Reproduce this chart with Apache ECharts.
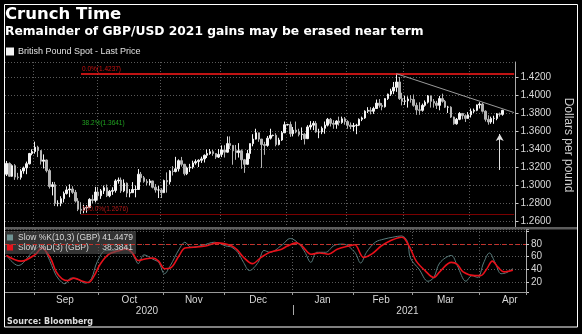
<!DOCTYPE html>
<html><head><meta charset="utf-8">
<script src="https://cdn.jsdelivr.net/npm/echarts@6/dist/echarts.min.js"></script>
<style>html,body{margin:0;padding:0;background:#000;}#c{width:582px;height:334px;}</style>
</head><body><div id="c"></div>
<script>
// ---------- DATA ----------
const dates = [
'2020-08-18','2020-08-19','2020-08-20','2020-08-21','2020-08-24','2020-08-25','2020-08-26','2020-08-27','2020-08-28','2020-08-31',
'2020-09-01','2020-09-02','2020-09-03','2020-09-04','2020-09-07','2020-09-08','2020-09-09','2020-09-10','2020-09-11','2020-09-14','2020-09-15','2020-09-16','2020-09-17','2020-09-18','2020-09-21','2020-09-22','2020-09-23','2020-09-24','2020-09-25','2020-09-28','2020-09-29','2020-09-30',
'2020-10-01','2020-10-02','2020-10-05','2020-10-06','2020-10-07','2020-10-08','2020-10-09','2020-10-12','2020-10-13','2020-10-14','2020-10-15','2020-10-16','2020-10-19','2020-10-20','2020-10-21','2020-10-22','2020-10-23','2020-10-26','2020-10-27','2020-10-28','2020-10-29','2020-10-30',
'2020-11-02','2020-11-03','2020-11-04','2020-11-05','2020-11-06','2020-11-09','2020-11-10','2020-11-11','2020-11-12','2020-11-13','2020-11-16','2020-11-17','2020-11-18','2020-11-19','2020-11-20','2020-11-23','2020-11-24','2020-11-25','2020-11-26','2020-11-27','2020-11-30',
'2020-12-01','2020-12-02','2020-12-03','2020-12-04','2020-12-07','2020-12-08','2020-12-09','2020-12-10','2020-12-11','2020-12-14','2020-12-15','2020-12-16','2020-12-17','2020-12-18','2020-12-21','2020-12-22','2020-12-23','2020-12-24','2020-12-25','2020-12-28','2020-12-29','2020-12-30','2020-12-31',
'2021-01-01','2021-01-04','2021-01-05','2021-01-06','2021-01-07','2021-01-08','2021-01-11','2021-01-12','2021-01-13','2021-01-14','2021-01-15','2021-01-18','2021-01-19','2021-01-20','2021-01-21','2021-01-22','2021-01-25','2021-01-26','2021-01-27','2021-01-28','2021-01-29',
'2021-02-01','2021-02-02','2021-02-03','2021-02-04','2021-02-05','2021-02-08','2021-02-09','2021-02-10','2021-02-11','2021-02-12','2021-02-15','2021-02-16','2021-02-17','2021-02-18','2021-02-19','2021-02-22','2021-02-23','2021-02-24','2021-02-25','2021-02-26',
'2021-03-01','2021-03-02','2021-03-03','2021-03-04','2021-03-05','2021-03-08','2021-03-09','2021-03-10','2021-03-11','2021-03-12','2021-03-15','2021-03-16','2021-03-17','2021-03-18','2021-03-19','2021-03-22','2021-03-23','2021-03-24','2021-03-25','2021-03-26','2021-03-29','2021-03-30','2021-03-31',
'2021-04-01','2021-04-02','2021-04-05','2021-04-06','2021-04-07','2021-04-08','2021-04-09','2021-04-12','2021-04-13','2021-04-14','2021-04-15','2021-04-16','2021-04-19','2021-04-20','2021-04-21','2021-04-22'
];

// [open, high, low, close]
const prices = [
[1.3120,1.3267,1.3100,1.3240],[1.3240,1.3251,1.3093,1.3097],[1.3097,1.3230,1.3090,1.3215],[1.3215,1.3232,1.3057,1.3088],[1.3088,1.3135,1.3060,1.3085],
[1.3085,1.3176,1.3060,1.3156],[1.3156,1.3205,1.3125,1.3190],[1.3190,1.3260,1.3120,1.3236],[1.3236,1.3357,1.3228,1.3350],[1.3350,1.3397,1.3330,1.3372],
[1.3372,1.3482,1.3348,1.3420],[1.3420,1.3436,1.3310,1.3383],[1.3383,1.3386,1.3227,1.3264],[1.3264,1.3340,1.3183,1.3278],[1.3278,1.3282,1.3140,1.3160],
[1.3160,1.3180,1.2960,1.2983],[1.2983,1.3034,1.2884,1.3003],[1.3003,1.3034,1.2766,1.2795],[1.2795,1.2830,1.2763,1.2797],[1.2797,1.2875,1.2764,1.2848],
[1.2848,1.2927,1.2806,1.2906],[1.2906,1.2985,1.2893,1.2945],[1.2945,1.3008,1.2864,1.2955],[1.2955,1.2986,1.2901,1.2918],[1.2918,1.2945,1.2805,1.2821],
[1.2821,1.2854,1.2710,1.2730],[1.2730,1.2808,1.2676,1.2720],[1.2720,1.2780,1.2686,1.2745],[1.2745,1.2776,1.2692,1.2749],[1.2749,1.2853,1.2744,1.2840],
[1.2840,1.2891,1.2797,1.2829],[1.2829,1.2979,1.2806,1.2922],
[1.2922,1.2977,1.2832,1.2880],[1.2880,1.2955,1.2846,1.2935],[1.2935,1.2994,1.2900,1.2970],[1.2970,1.3005,1.2866,1.2880],[1.2880,1.2945,1.2864,1.2930],
[1.2930,1.2975,1.2890,1.2940],[1.2940,1.3064,1.2915,1.3045],[1.3045,1.3083,1.3015,1.3055],[1.3055,1.3083,1.2912,1.2935],[1.2935,1.3063,1.2920,1.3020],
[1.3020,1.3028,1.2865,1.2910],[1.2910,1.2955,1.2863,1.2915],[1.2915,1.3032,1.2913,1.2950],[1.2950,1.2995,1.2863,1.2950],[1.2950,1.3177,1.2945,1.3120],
[1.3120,1.3145,1.3030,1.3080],[1.3080,1.3100,1.3025,1.3040],[1.3040,1.3065,1.2995,1.3025],[1.3025,1.3066,1.2995,1.3045],[1.3045,1.3047,1.2962,1.2975],
[1.2975,1.3010,1.2915,1.2945],[1.2945,1.2990,1.2855,1.2945],
[1.2945,1.2965,1.2855,1.2915],[1.2915,1.3060,1.2910,1.3050],[1.3050,1.3140,1.2915,1.3035],[1.3035,1.3165,1.3005,1.3155],[1.3155,1.3210,1.3105,1.3150],
[1.3150,1.3313,1.3140,1.3180],[1.3180,1.3285,1.3150,1.3270],[1.3270,1.3312,1.3205,1.3230],[1.3230,1.3235,1.3105,1.3125],[1.3125,1.3205,1.3110,1.3190],
[1.3190,1.3235,1.3145,1.3200],[1.3200,1.3270,1.3180,1.3245],[1.3245,1.3285,1.3225,1.3260],[1.3260,1.3285,1.3200,1.3275],[1.3275,1.3315,1.3245,1.3290],
[1.3290,1.3340,1.3250,1.3330],[1.3330,1.3395,1.3300,1.3350],[1.3350,1.3400,1.3335,1.3370],[1.3370,1.3390,1.3325,1.3350],[1.3350,1.3355,1.3290,1.3310],
[1.3310,1.3400,1.3300,1.3340],
[1.3340,1.3440,1.3310,1.3390],[1.3390,1.3442,1.3305,1.3365],[1.3365,1.3540,1.3360,1.3460],[1.3460,1.3540,1.3400,1.3440],[1.3440,1.3445,1.3225,1.3380],
[1.3380,1.3445,1.3280,1.3360],[1.3360,1.3465,1.3305,1.3380],[1.3380,1.3395,1.3180,1.3280],[1.3280,1.3290,1.3135,1.3230],[1.3230,1.3390,1.3225,1.3350],
[1.3350,1.3460,1.3290,1.3460],[1.3460,1.3565,1.3430,1.3510],[1.3510,1.3625,1.3505,1.3580],[1.3580,1.3582,1.3480,1.3510],[1.3510,1.3512,1.3190,1.3450],
[1.3450,1.3480,1.3335,1.3440],[1.3440,1.3545,1.3425,1.3520],[1.3520,1.3625,1.3505,1.3550],[1.3550,1.3560,1.3540,1.3552],[1.3552,1.3575,1.3430,1.3450],
[1.3450,1.3525,1.3440,1.3500],[1.3500,1.3600,1.3490,1.3580],[1.3580,1.3705,1.3578,1.3670],
[1.3670,1.3680,1.3660,1.3672],[1.3672,1.3705,1.3535,1.3570],[1.3570,1.3645,1.3540,1.3610],[1.3610,1.3705,1.3575,1.3590],[1.3590,1.3625,1.3540,1.3560],
[1.3560,1.3640,1.3500,1.3565],[1.3565,1.3575,1.3450,1.3515],[1.3515,1.3665,1.3510,1.3645],[1.3645,1.3710,1.3615,1.3665],[1.3665,1.3710,1.3610,1.3685],
[1.3685,1.3710,1.3580,1.3590],[1.3590,1.3625,1.3520,1.3590],[1.3590,1.3650,1.3565,1.3630],[1.3630,1.3705,1.3570,1.3665],[1.3665,1.3745,1.3650,1.3730],
[1.3730,1.3745,1.3650,1.3685],[1.3685,1.3720,1.3625,1.3675],[1.3675,1.3720,1.3625,1.3710],[1.3710,1.3760,1.3660,1.3695],[1.3695,1.3760,1.3680,1.3735],
[1.3735,1.3755,1.3670,1.3705],
[1.3705,1.3720,1.3625,1.3665],[1.3665,1.3695,1.3620,1.3650],[1.3650,1.3690,1.3600,1.3660],[1.3660,1.3680,1.3565,1.3665],[1.3665,1.3740,1.3655,1.3730],
[1.3730,1.3760,1.3710,1.3745],[1.3745,1.3830,1.3735,1.3820],[1.3820,1.3865,1.3800,1.3830],[1.3830,1.3865,1.3785,1.3820],[1.3820,1.3870,1.3790,1.3850],
[1.3850,1.3950,1.3845,1.3910],[1.3910,1.3955,1.3860,1.3885],[1.3885,1.3910,1.3830,1.3870],[1.3870,1.3965,1.3860,1.3960],[1.3960,1.4015,1.3945,1.4010],
[1.4010,1.4070,1.3990,1.4045],[1.4045,1.4145,1.4010,1.4085],[1.4085,1.4237,1.4035,1.4145],[1.4145,1.4200,1.3945,1.3960],[1.3960,1.4025,1.3885,1.3930],
[1.3930,1.3990,1.3890,1.3935],[1.3935,1.3985,1.3860,1.3955],[1.3955,1.4000,1.3915,1.3950],[1.3950,1.4005,1.3870,1.3885],[1.3885,1.3915,1.3780,1.3835],
[1.3835,1.3920,1.3780,1.3830],[1.3830,1.3905,1.3815,1.3885],[1.3885,1.3940,1.3870,1.3920],[1.3920,1.4000,1.3905,1.3990],[1.3990,1.3995,1.3860,1.3930],
[1.3930,1.3955,1.3860,1.3910],[1.3910,1.3935,1.3845,1.3885],[1.3885,1.3990,1.3830,1.3960],[1.3960,1.4015,1.3915,1.3930],[1.3930,1.3945,1.3855,1.3865],
[1.3865,1.3880,1.3800,1.3865],[1.3865,1.3875,1.3745,1.3755],[1.3755,1.3760,1.3670,1.3680],[1.3680,1.3745,1.3670,1.3730],[1.3730,1.3810,1.3720,1.3795],
[1.3795,1.3800,1.3730,1.3770],[1.3770,1.3785,1.3700,1.3740],[1.3740,1.3810,1.3735,1.3780],
[1.3780,1.3850,1.3750,1.3820],[1.3820,1.3850,1.3800,1.3830],[1.3830,1.3895,1.3820,1.3890],[1.3890,1.3920,1.3850,1.3900],[1.3900,1.3915,1.3805,1.3820],
[1.3820,1.3830,1.3705,1.3730],[1.3730,1.3775,1.3670,1.3700],[1.3700,1.3760,1.3680,1.3740],[1.3740,1.3770,1.3680,1.3740],[1.3740,1.3800,1.3720,1.3790],
[1.3790,1.3805,1.3760,1.3785],[1.3785,1.3835,1.3770,1.3830]
];

const stochK = [
['2020-08-18',62],['2020-08-24',46],['2020-08-31',68],['2020-09-03',78],['2020-09-07',62],['2020-09-10',30],['2020-09-14',19],['2020-09-15',17],
['2020-09-17',26],['2020-09-21',25],['2020-09-24',18],['2020-09-28',25],['2020-09-30',52],['2020-10-05',70],['2020-10-08',70],['2020-10-13',75],
['2020-10-15',72],['2020-10-19',56],['2020-10-20',49],['2020-10-22',63],['2020-10-27',56],['2020-10-29',51],['2020-11-02',33],['2020-11-04',46],
['2020-11-09',72],['2020-11-11',83],['2020-11-13',75],['2020-11-19',78],['2020-11-25',83],['2020-12-01',77],['2020-12-03',75],['2020-12-07',67],
['2020-12-09',51],['2020-12-11',38],['2020-12-16',51],['2020-12-18',70],['2020-12-22',67],['2020-12-28',78],['2020-12-31',89],['2021-01-05',80],
['2021-01-07',67],['2021-01-11',51],['2021-01-13',67],['2021-01-18',67],['2021-01-21',78],['2021-01-26',80],['2021-02-01',67],['2021-02-03',50],
['2021-02-05',67],['2021-02-10',83],['2021-02-15',88],['2021-02-18',91],['2021-02-23',93],['2021-02-25',84],['2021-02-26',58],['2021-03-03',40],
['2021-03-08',21],['2021-03-10',27],['2021-03-12',50],['2021-03-18',62],['2021-03-22',46],['2021-03-25',21],['2021-03-29',30],['2021-03-31',27],
['2021-04-02',50],['2021-04-06',66],['2021-04-08',50],['2021-04-12',33],['2021-04-14',35],['2021-04-16',41.4479]
];

const stochD = [
['2020-08-18',62],['2020-08-25',53],['2020-09-01',64],['2020-09-03',74],['2020-09-08',58],['2020-09-10',36],['2020-09-14',25],['2020-09-16',22],
['2020-09-18',26],['2020-09-23',21],['2020-09-25',19],['2020-09-29',30],['2020-10-01',48],['2020-10-06',64],['2020-10-09',69],['2020-10-14',72],
['2020-10-16',66],['2020-10-20',54],['2020-10-22',56],['2020-10-27',58],['2020-10-29',53],['2020-11-02',41],['2020-11-04',42],['2020-11-09',62],
['2020-11-11',74],['2020-11-16',75],['2020-11-20',77],['2020-11-26',82],['2020-12-03',77],['2020-12-07',70],['2020-12-09',59],['2020-12-14',49],
['2020-12-17',59],['2020-12-22',67],['2020-12-28',72],['2020-12-30',77],['2021-01-04',82],['2021-01-06',77],['2021-01-11',64],['2021-01-14',66],
['2021-01-19',64],['2021-01-22',72],['2021-01-28',77],['2021-02-01',79],['2021-02-04',59],['2021-02-09',65],['2021-02-12',77],['2021-02-17',85],
['2021-02-23',91],['2021-02-24',89],['2021-02-26',73],['2021-03-02',53],['2021-03-05',38],['2021-03-10',27],['2021-03-12',36],['2021-03-18',51],
['2021-03-22',48],['2021-03-24',36],['2021-03-30',30],['2021-04-01',30],['2021-04-05',40],['2021-04-07',53],['2021-04-09',43],['2021-04-13',36],
['2021-04-16',38.3841]
];

const fibStartDate = '2020-09-23';
const fibPercents = ['0.0%', '38.2%', '100.0%'];
const fibValues = [1.4237, 1.3641, 1.2676];
const trendStart = ['2021-02-24', 1.4237];
const trendEnd = ['2021-04-22', 1.3805];
const arrowDate = '2021-04-15';
const arrowFrom = 1.3167, arrowTo = 1.3567;
const overbought = 80;

const monthLabelDates = ['2020-09-15','2020-10-15','2020-11-16','2020-12-16','2021-01-15','2021-02-12','2021-03-16','2021-04-15'];
const monthLabelTexts = ['Sep','Oct','Nov','Dec','Jan','Feb','Mar','Apr'];
const yearLabelDates = ['2020-10-23','2021-02-25'];
const yearLabelTexts = ['2020','2021'];
const yearStartDate = '2021-01-01';

const priceName = 'British Pound Spot - Last Price';
const kName = 'Slow %K(10,3) (GBP)';
const dName = 'Slow %D(3) (GBP)';

// ---------- CHART ----------
const candleData = prices.map(p => [p[0], p[3], p[2], p[1]]);
const isMonthStart = (i) => i > 0 && dates[i].slice(0, 7) !== dates[i - 1].slice(0, 7);
const lastVal = {};
lastVal[kName] = stochK[stochK.length - 1][1].toFixed(4);
lastVal[dName] = stochD[stochD.length - 1][1].toFixed(4);

const FONT = 'Liberation Sans';
const gridDot = { color: '#5a5a5a', type: [1, 2], width: 1 };

const fibColors = ['#ff1a1a', 'rgba(0,0,0,0)', '#7a0000'];
const fibLabelColors = ['#c81010', '#20a020', '#b01818'];
const fibWidths = [1.5, 1, 1];
const fibLines = fibValues.map((v, k) => [
  { coord: [fibStartDate, v],
    lineStyle: { color: fibColors[k], width: fibWidths[k], type: 'solid' },
    label: { show: true, formatter: fibPercents[k] + '(' + v.toFixed(4) + ')', position: 'insideStartTop',
             color: fibLabelColors[k], fontSize: 6.5, fontFamily: FONT, distance: 1 } },
  { coord: [dates[dates.length - 1], v] }
]);

const chart = echarts.init(document.getElementById('c'), null, { renderer: 'canvas' });
chart.setOption({
  backgroundColor: '#000',
  animation: false,
  title: [
    { text: 'Crunch Time', subtext: 'Remainder of GBP/USD 2021 gains may be erased near term',
      left: 5, top: 6.5, padding: 0, itemGap: 2.5,
      textStyle: { fontFamily: 'DejaVu Sans', fontWeight: 'bold', fontSize: 16.5, color: '#fff' },
      subtextStyle: { fontFamily: 'DejaVu Sans', fontWeight: 'bold', fontSize: 12.3, color: '#fff' } },
    { text: 'Source: Bloomberg', left: 7, top: 318, padding: 0,
      textStyle: { fontFamily: 'DejaVu Sans', fontWeight: 'bold', fontSize: 8, color: '#ddd' } }
  ],
  legend: [
    { data: [priceName], left: 6, top: 47, padding: 0, icon: 'rect', itemWidth: 6, itemHeight: 6,
      textStyle: { color: '#e0e0e0', fontSize: 9, fontFamily: FONT } },
    { data: [kName, dName], left: 4, top: 231, orient: 'vertical', icon: 'rect', itemWidth: 6, itemHeight: 6,
      itemGap: 1, padding: [2, 3, 2, 3], backgroundColor: 'rgba(85,85,85,0.6)',
      formatter: n => '{n|' + n + '}{v|' + lastVal[n] + '}',
      textStyle: { color: '#d8d8d8', fontSize: 8.5, fontFamily: FONT,
        rich: { n: { width: 84, fontSize: 8.5, fontFamily: FONT, color: '#d8d8d8' },
                v: { width: 31, align: 'right', fontSize: 8.5, fontFamily: FONT, color: '#d8d8d8' } } } }
  ],
  grid: [
    { left: 5, right: 56, top: 62, height: 166 },
    { left: 5, right: 56, top: 229, height: 63 }
  ],
  xAxis: [
    { type: 'category', gridIndex: 0, data: dates, boundaryGap: true,
      axisLine: { show: false }, axisTick: { show: false }, axisLabel: { show: false },
      splitLine: { show: true, interval: (i) => isMonthStart(i), lineStyle: gridDot } },
    { type: 'category', gridIndex: 1, data: dates, boundaryGap: true,
      axisLine: { show: true, lineStyle: { color: '#999' } },
      axisTick: { show: true, interval: (i) => isMonthStart(i), length: 3, lineStyle: { color: '#999' } },
      axisLabel: { interval: (i, v) => monthLabelDates.includes(v),
        formatter: v => monthLabelTexts[monthLabelDates.indexOf(v)] || '',
        color: '#d8d8d8', fontSize: 10, fontFamily: FONT, margin: 3 },
      splitLine: { show: true, interval: (i) => isMonthStart(i), lineStyle: gridDot } },
    { type: 'category', gridIndex: 1, data: dates, boundaryGap: true, position: 'bottom', offset: 13,
      axisLine: { show: false },
      axisTick: { show: true, alignWithLabel: true, interval: (i, v) => v === yearStartDate, length: 10, lineStyle: { color: '#aaa' } },
      axisLabel: { interval: (i, v) => yearLabelDates.includes(v),
        formatter: v => yearLabelTexts[yearLabelDates.indexOf(v)] || '',
        color: '#d8d8d8', fontSize: 10, fontFamily: FONT, margin: 1 },
      splitLine: { show: false } }
  ],
  yAxis: [
    { type: 'value', gridIndex: 0, position: 'right', min: 1.2522, max: 1.4367, splitNumber: 9,
      name: 'Dollars per pound', nameLocation: 'middle', nameRotate: -90, nameGap: 40,
      nameTextStyle: { color: '#cfcfcf', fontSize: 12, fontFamily: FONT },
      axisLine: { show: true, lineStyle: { color: '#aaa' } },
      axisTick: { show: true, length: 3, lineStyle: { color: '#ccc' } },
      axisLabel: { color: '#d8d8d8', fontSize: 10, fontFamily: FONT, margin: 5, showMinLabel: false, showMaxLabel: false,
        formatter: v => Math.abs(v * 50 - Math.round(v * 50)) < 1e-6 ? v.toFixed(4) : '' },
      splitLine: { show: true, lineStyle: gridDot } },
    { type: 'value', gridIndex: 1, position: 'right', min: 4, max: 104, splitNumber: 5,
      axisLine: { show: true, lineStyle: { color: '#aaa' } },
      axisTick: { show: true, length: 3, lineStyle: { color: '#ccc' } },
      axisLabel: { color: '#d8d8d8', fontSize: 10, fontFamily: FONT, margin: 5,
        formatter: v => (v >= 20 && v <= 80 && v % 20 === 0) ? String(v) : '' },
      splitLine: { show: true, lineStyle: gridDot } }
  ],
  series: [
    { name: priceName, type: 'candlestick', xAxisIndex: 0, yAxisIndex: 0, data: candleData, barWidth: 2,
      itemStyle: { color: '#f4f4f4', color0: '#b4b4b4', borderColor: '#f4f4f4', borderColor0: '#b4b4b4', borderWidth: 1 },
      markLine: { silent: true, symbol: ['none', 'none'], label: { show: false },
        data: fibLines.concat([
          [ { coord: trendStart, lineStyle: { color: '#9a9a9a', width: 1, type: 'solid' } }, { coord: trendEnd } ],
          [ { coord: [arrowDate, arrowFrom], symbol: 'none', lineStyle: { color: '#e0e0e0', width: 1, type: 'solid' } },
            { coord: [arrowDate, arrowTo], symbol: 'arrow', symbolSize: [6, 7] } ]
        ]) } },
    { name: kName, type: 'line', xAxisIndex: 1, yAxisIndex: 1, data: stochK, showSymbol: false, smooth: 0.35,
      color: '#6f9494', lineStyle: { color: '#587c7c', width: 1 } },
    { name: dName, type: 'line', xAxisIndex: 1, yAxisIndex: 1, data: stochD, showSymbol: false, smooth: 0.35,
      color: '#e8101a', lineStyle: { color: '#e8101a', width: 1.6 },
      markLine: { silent: true, symbol: ['none', 'none'], label: { show: false },
        lineStyle: { color: '#c8302a', type: [4, 3], width: 1 }, data: [{ yAxis: overbought }] } }
  ],
  graphic: [
    { type: 'rect', z: 10, silent: true, shape: { x: 4, y: 227, width: 574, height: 2.5 }, style: { fill: '#5c5c5c' } },
    { type: 'rect', z: 100, silent: true, shape: { x: 4.5, y: 4.5, width: 573, height: 322.5 }, style: { fill: null, stroke: '#ffffff', lineWidth: 1 } }
  ]
});
</script></body></html>
